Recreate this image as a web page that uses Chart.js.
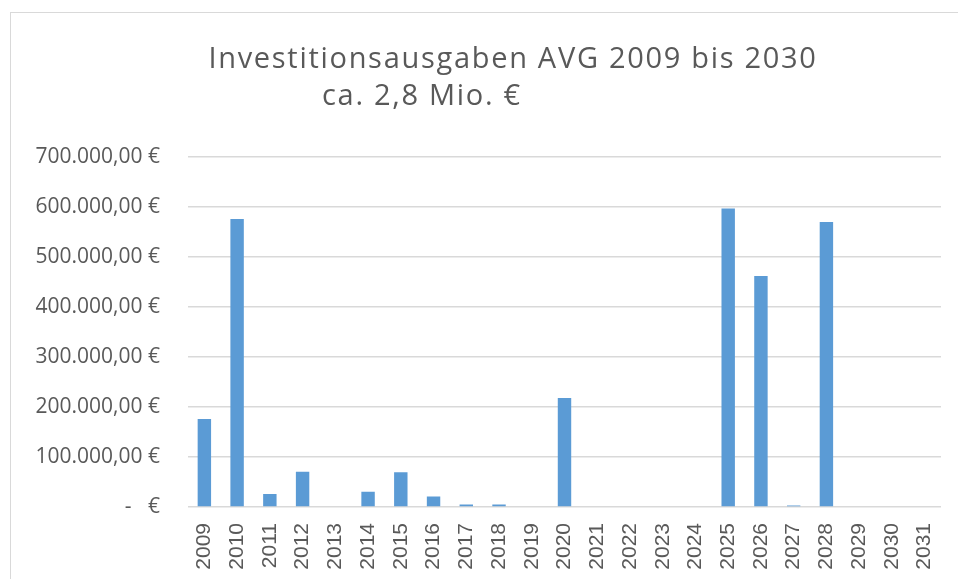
<!DOCTYPE html>
<html>
<head>
<meta charset="utf-8">
<script src="https://cdn.jsdelivr.net/npm/chart.js@4"></script>
<style>
    html, body { margin: 0; padding: 0; background: #fff; overflow: hidden; }
    #wrap { position: relative; width: 958px; height: 579px; }
    #frame {
        position: absolute; left: 10px; top: 12px; width: 1000px; height: 700px;
        border: 1px solid #d9d9d9; box-sizing: border-box;
    }
    canvas { position: absolute; left: 0; top: 0; }
</style>
</head>
<body>
<div id="wrap">
    <div id="frame"></div>
    <canvas id="investChart" width="958" height="579"></canvas>
</div>
<script>
// Jahre (Kategorien)
const years = ['2009', '2010', '2011', '2012', '2013', '2014', '2015', '2016',
    '2017', '2018', '2019', '2020', '2021', '2022', '2023', '2024', '2025',
    '2026', '2027', '2028', '2029', '2030', '2031'];

// Investitionsausgaben in Euro
const ausgaben = [176000, 576000, 26000, 70500, 0, 30500, 69500, 21000,
    5000, 5000, 0, 218000, 0, 0, 0, 0, 597000,
    462000, 3000, 570000, 0, 0, 0];

// Achsenbeschriftungen Y
const yTicks = [0, 100000, 200000, 300000, 400000, 500000, 600000, 700000];

const titleLine1 = 'Investitionsausgaben AVG 2009 bis 2030';
const titleLine2 = 'ca. 2,8 Mio. €';

const COLORS = {
    bar: '#5b9bd5',
    grid: '#d9d9d9',
    text: '#595959'
};

function formatEuro(value) {
    if (value === 0) {
        return '-\u00a0\u00a0\u00a0€';
    }
    return value.toLocaleString('de-DE', { minimumFractionDigits: 2, maximumFractionDigits: 2 }) + ' €';
}

// Titel wie in Excel: zweite Zeile nach links versetzt
const excelTitle = {
    id: 'excelTitle',
    afterDraw(chart) {
        const c = chart.ctx;
        c.save();
        c.fillStyle = COLORS.text;
        c.font = '29px "Open Sans"';
        c.textBaseline = 'alphabetic';
        if ('letterSpacing' in c) c.letterSpacing = '1.7px';
        c.textAlign = 'center';
        c.fillText(titleLine1, 513, 68);
        c.textAlign = 'left';
        c.fillText(titleLine2, 322, 105);
        c.restore();
    }
};

const ctx = document.getElementById('investChart');
new Chart(ctx, {
    type: 'bar',
    data: {
        labels: years,
        datasets: [{
            label: 'Investitionsausgaben',
            data: ausgaben,
            backgroundColor: COLORS.bar,
            borderWidth: 0,
            barPercentage: 0.41,
            categoryPercentage: 1.0
        }]
    },
    options: {
        responsive: false,
        animation: false,
        devicePixelRatio: 1,
        layout: {
            padding: { left: 0, right: 17, top: 157, bottom: 0 }
        },
        plugins: {
            legend: { display: false },
            tooltip: { enabled: false },
            title: { display: false }
        },
        scales: {
            x: {
                grid: { display: false, drawTicks: false },
                border: { display: false },
                ticks: {
                    color: COLORS.text,
                    font: { family: 'Liberation Sans', size: 21 },
                    minRotation: 90,
                    maxRotation: 90,
                    autoSkip: false,
                    padding: 16
                },
                afterFit: function(scale) {
                    scale.height = 72;
                    scale.paddingLeft = 0;
                    scale.paddingRight = 0;
                }
            },
            y: {
                min: 0,
                max: 700000,
                afterBuildTicks: function(scale) {
                    scale.ticks = yTicks.map(v => ({ value: v }));
                },
                grid: {
                    color: COLORS.grid,
                    lineWidth: 1.5,
                    drawTicks: false
                },
                border: { display: false },
                ticks: {
                    color: COLORS.text,
                    font: { family: 'Open Sans', size: 21 },
                    padding: 28,
                    callback: function(value) {
                        return formatEuro(value);
                    }
                },
                afterFit: function(scale) {
                    scale.width = 188;
                }
            }
        }
    },
    plugins: [excelTitle]
});
</script>
</body>
</html>
